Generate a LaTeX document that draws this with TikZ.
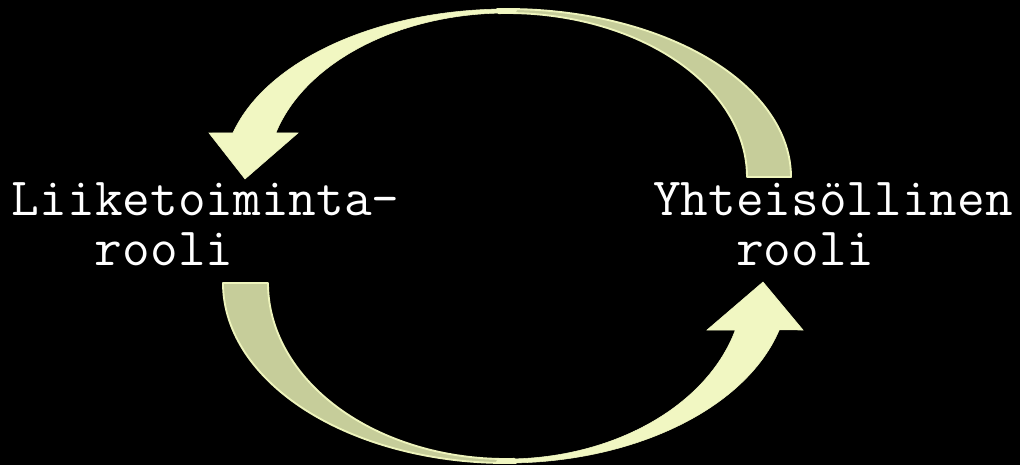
\documentclass[tikz,border=0pt]{standalone}
\usepackage{fontspec}
\usetikzlibrary{calc}
\definecolor{frontc}{HTML}{F1F7C2}
\definecolor{backc}{HTML}{C6CD9A}
\definecolor{edgec}{HTML}{EEF4BC}
\tikzset{
  x=0.75pt, y=-0.75pt,
  label/.style={inner sep=0pt, outer sep=0pt, anchor=base west, text=white, align=left,
    font=\ttfamily\fontsize{40.3pt}{37.5pt}\selectfont},
  backpart/.style={fill=backc, draw=edgec, line width=1.4pt, line join=round},
  frontpart/.style={fill=frontc, draw=frontc, line width=0.4pt, line join=miter},
}
\begin{document}
\begin{tikzpicture}
\fill[black] (0,0) rectangle (1020,465);
\useasboundingbox (0,0) rectangle (1020,465);

% centres of the two curved arrows
\coordinate (tc) at (507,177);
\coordinate (bc) at (506,283);

% ---- top arrow (from Yhteisöllinen to Liiketoiminta) ----
% back part (tail, right side)
\path[backpart] (tc) ++(0:284 and 168)
   arc[start angle=360, end angle=268, x radius=284, y radius=168]
   -- ($(tc)+(268:240 and 164)$)
   arc[start angle=268, end angle=360, x radius=240, y radius=164]
   -- cycle;
% front part with head
\coordinate (th1) at (209,133);
\coordinate (thtip) at (245,179);
\coordinate (th2) at (298,133);
\path[frontpart] (tc) ++(272:284 and 168)
   arc[start angle=272, end angle=195.2, x radius=284, y radius=168]
   -- (th1) -- (thtip) -- (th2)
   -- ($(tc)+(195.6:240 and 164)$)
   arc[start angle=195.6, end angle=272, x radius=240, y radius=164]
   -- cycle;

% ---- bottom arrow (from Liiketoiminta to Yhteisöllinen) ----
\path[backpart] (bc) ++(180:283 and 180)
   arc[start angle=180, end angle=88, x radius=283, y radius=180]
   -- ($(bc)+(88:238 and 176)$)
   arc[start angle=88, end angle=180, x radius=238, y radius=176]
   -- cycle;
\coordinate (bh1) at (803,330);
\coordinate (bhtip) at (763,282);
\coordinate (bh2) at (707,330);
\path[frontpart] (bc) ++(92:283 and 180)
   arc[start angle=92, end angle=15.1, x radius=283, y radius=180]
   -- (bh1) -- (bhtip) -- (bh2)
   -- ($(bc)+(15.5:238 and 176)$)
   arc[start angle=15.5, end angle=92, x radius=238, y radius=176]
   -- cycle;

% ---- labels (anchor on the baseline of the second line) ----
\node[label] (l) at (12,265) {Liiketoiminta-\\\hspace*{62.25pt}rooli};
\node[label] (r) at (653,265) {Yhteisöllinen\\\hspace*{62.25pt}rooli};
\end{tikzpicture}
\end{document}
